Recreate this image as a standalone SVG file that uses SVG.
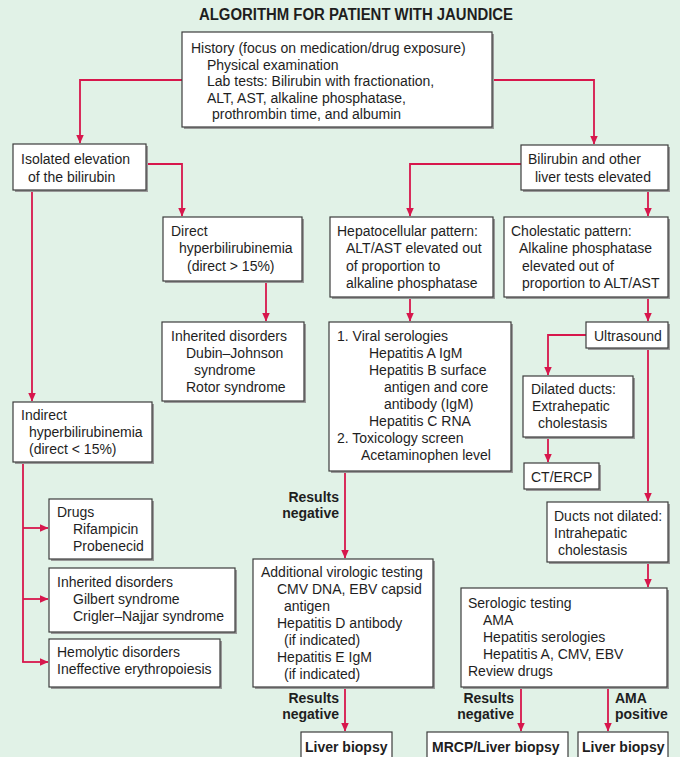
<svg xmlns="http://www.w3.org/2000/svg" width="680" height="757" viewBox="0 0 680 757">
<defs>
<style>
.bg{fill:#e1f2e7}
.box{fill:#ffffff;stroke:#3c3c3c;stroke-width:1.2}
.sh{fill:#999999}
text{font-family:"Liberation Sans",Arial,Helvetica,sans-serif;font-size:14px;fill:#1e1e1e}
.b{font-weight:bold}
.title{font-size:16px;font-weight:bold}
.ln{fill:none;stroke:#d7174c;stroke-width:1.8}
.r{text-anchor:end}
</style>
<marker id="ah" markerWidth="9" markerHeight="8" refX="8.5" refY="4" orient="auto" markerUnits="userSpaceOnUse">
<path d="M0,0 L9,4 L0,8 z" fill="#d7174c"/>
</marker>
</defs>
<rect class="bg" x="0" y="0" width="680" height="757"/>
<text class="title" x="199" y="19.5" textLength="314" lengthAdjust="spacingAndGlyphs">ALGORITHM FOR PATIENT WITH JAUNDICE</text>

<g id="connectors">
<path class="ln" d="M182,80 H80 V143" marker-end="url(#ah)"/>
<path class="ln" d="M492,80 H594 V144" marker-end="url(#ah)"/>
<path class="ln" d="M146,164 H182 V216" marker-end="url(#ah)"/>
<path class="ln" d="M32,190 V401" marker-end="url(#ah)"/>
<path class="ln" d="M266,281 V321" marker-end="url(#ah)"/>
<path class="ln" d="M521,164 H410 V216" marker-end="url(#ah)"/>
<path class="ln" d="M648,190 V216" marker-end="url(#ah)"/>
<path class="ln" d="M410,297 V321" marker-end="url(#ah)"/>
<path class="ln" d="M648,297 V321" marker-end="url(#ah)"/>
<path class="ln" d="M586,335 H548 V375" marker-end="url(#ah)"/>
<path class="ln" d="M548,437 V462" marker-end="url(#ah)"/>
<path class="ln" d="M648,348 V501" marker-end="url(#ah)"/>
<path class="ln" d="M648,562 V587" marker-end="url(#ah)"/>
<path class="ln" d="M345,471 V558" marker-end="url(#ah)"/>
<path class="ln" d="M23,462 V662"/>
<path class="ln" d="M23,528 H48" marker-end="url(#ah)"/>
<path class="ln" d="M23,599 H48" marker-end="url(#ah)"/>
<path class="ln" d="M22.1,662 H48" marker-end="url(#ah)"/>
<path class="ln" d="M345,687 V731" marker-end="url(#ah)"/>
<path class="ln" d="M521,687 V731" marker-end="url(#ah)"/>
<path class="ln" d="M608,687 V731" marker-end="url(#ah)"/>
<text class="b r" x="339" y="502">Results</text>
<text class="b r" x="339" y="518">negative</text>
<text class="b r" x="339" y="703">Results</text>
<text class="b r" x="339" y="719">negative</text>
<text class="b r" x="514" y="703">Results</text>
<text class="b r" x="514" y="719">negative</text>
<text class="b" x="615" y="703">AMA</text>
<text class="b" x="615" y="719">positive</text>
</g>

<g id="history">
<rect class="sh" x="184" y="34" width="310" height="95"/>
<rect class="box" x="182" y="32" width="310" height="95"/>
<text x="191" y="53">History (focus on medication/drug exposure)</text>
<text x="207" y="69.5">Physical examination</text>
<text x="207" y="86">Lab tests: Bilirubin with fractionation,</text>
<text x="207" y="102.5">ALT, AST, alkaline phosphatase,</text>
<text x="212" y="119">prothrombin time, and albumin</text>
</g>

<g id="isolated">
<rect class="sh" x="15" y="146" width="133" height="46"/>
<rect class="box" x="13" y="144" width="133" height="46"/>
<text x="21" y="164">Isolated elevation</text>
<text x="28" y="182">of the bilirubin</text>
</g>

<g id="bilirubin-other">
<rect class="sh" x="523" y="147" width="147" height="45"/>
<rect class="box" x="521" y="145" width="147" height="45"/>
<text x="528" y="164">Bilirubin and other</text>
<text x="535" y="182">liver tests elevated</text>
</g>

<g id="direct">
<rect class="sh" x="165" y="219" width="139" height="64"/>
<rect class="box" x="163" y="217" width="139" height="64"/>
<text x="171" y="236">Direct</text>
<text x="179" y="253">hyperbilirubinemia</text>
<text x="187" y="271">(direct &gt; 15%)</text>
</g>

<g id="hepatocellular">
<rect class="sh" x="332" y="219" width="163" height="80"/>
<rect class="box" x="330" y="217" width="163" height="80"/>
<text x="337" y="236">Hepatocellular pattern:</text>
<text x="346" y="253">ALT/AST elevated out</text>
<text x="346" y="270.5">of proportion to</text>
<text x="346" y="287.5">alkaline phosphatase</text>
</g>

<g id="cholestatic">
<rect class="sh" x="506" y="219" width="164" height="80"/>
<rect class="box" x="504" y="217" width="164" height="80"/>
<text x="511" y="236">Cholestatic pattern:</text>
<text x="519" y="253">Alkaline phosphatase</text>
<text x="522" y="270.5">elevated out of</text>
<text x="522" y="287.5">proportion to ALT/AST</text>
</g>

<g id="inherited-direct">
<rect class="sh" x="164" y="324" width="142" height="79"/>
<rect class="box" x="162" y="322" width="142" height="79"/>
<text x="171" y="341">Inherited disorders</text>
<text x="186" y="358">Dubin–Johnson</text>
<text x="194" y="375">syndrome</text>
<text x="186" y="392">Rotor syndrome</text>
</g>

<g id="viral">
<rect class="sh" x="331" y="324" width="182" height="149"/>
<rect class="box" x="329" y="322" width="182" height="149"/>
<text x="337" y="341">1. Viral serologies</text>
<text x="369" y="358">Hepatitis A IgM</text>
<text x="369" y="375">Hepatitis B surface</text>
<text x="384" y="392">antigen and core</text>
<text x="384" y="409">antibody (IgM)</text>
<text x="369" y="426">Hepatitis C RNA</text>
<text x="337" y="443">2. Toxicology screen</text>
<text x="361" y="460">Acetaminophen level</text>
</g>

<g id="ultrasound">
<rect class="sh" x="588" y="324" width="82" height="26"/>
<rect class="box" x="586" y="322" width="82" height="26"/>
<text x="594" y="341">Ultrasound</text>
</g>

<g id="dilated">
<rect class="sh" x="525" y="378" width="110" height="61"/>
<rect class="box" x="523" y="376" width="110" height="61"/>
<text x="531" y="394">Dilated ducts:</text>
<text x="532" y="411">Extrahepatic</text>
<text x="538" y="428">cholestasis</text>
</g>

<g id="ct-ercp">
<rect class="sh" x="526" y="465" width="75" height="26"/>
<rect class="box" x="524" y="463" width="75" height="26"/>
<text x="531" y="482">CT/ERCP</text>
</g>

<g id="indirect">
<rect class="sh" x="15" y="404" width="139" height="60"/>
<rect class="box" x="13" y="402" width="139" height="60"/>
<text x="21" y="420">Indirect</text>
<text x="29" y="437">hyperbilirubinemia</text>
<text x="29" y="454">(direct &lt; 15%)</text>
</g>

<g id="drugs">
<rect class="sh" x="51" y="501" width="103" height="60"/>
<rect class="box" x="49" y="499" width="103" height="60"/>
<text x="57" y="517">Drugs</text>
<text x="73" y="534">Rifampicin</text>
<text x="73" y="551">Probenecid</text>
</g>

<g id="ducts-not-dilated">
<rect class="sh" x="549" y="504" width="121" height="60"/>
<rect class="box" x="547" y="502" width="121" height="60"/>
<text x="554" y="521">Ducts not dilated:</text>
<text x="554" y="538">Intrahepatic</text>
<text x="558" y="555">cholestasis</text>
</g>

<g id="additional">
<rect class="sh" x="255" y="561" width="180" height="128"/>
<rect class="box" x="253" y="559" width="180" height="128"/>
<text x="261" y="577">Additional virologic testing</text>
<text x="277" y="594">CMV DNA, EBV capsid</text>
<text x="284" y="611">antigen</text>
<text x="277" y="628">Hepatitis D antibody</text>
<text x="284" y="645">(if indicated)</text>
<text x="277" y="662">Hepatitis E IgM</text>
<text x="284" y="679">(if indicated)</text>
</g>

<g id="inherited-indirect">
<rect class="sh" x="51" y="570" width="186" height="64"/>
<rect class="box" x="49" y="568" width="186" height="64"/>
<text x="57" y="587">Inherited disorders</text>
<text x="73" y="604">Gilbert syndrome</text>
<text x="73" y="621">Crigler–Najjar syndrome</text>
</g>

<g id="serologic">
<rect class="sh" x="463" y="590" width="206" height="99"/>
<rect class="box" x="461" y="588" width="206" height="99"/>
<text x="468" y="608">Serologic testing</text>
<text x="483" y="625">AMA</text>
<text x="483" y="642">Hepatitis serologies</text>
<text x="483" y="659">Hepatitis A, CMV, EBV</text>
<text x="468" y="676">Review drugs</text>
</g>

<g id="hemolytic">
<rect class="sh" x="51" y="641" width="171" height="48"/>
<rect class="box" x="49" y="639" width="171" height="48"/>
<text x="57" y="657">Hemolytic disorders</text>
<text x="57" y="674">Ineffective erythropoiesis</text>
</g>

<g id="liver-biopsy-1">
<rect class="box" x="301" y="732" width="91" height="34"/>
<text class="b" x="305" y="752">Liver biopsy</text>
</g>

<g id="mrcp">
<rect class="box" x="427" y="732" width="141" height="34"/>
<text class="b" x="432" y="752">MRCP/Liver biopsy</text>
</g>

<g id="liver-biopsy-2">
<rect class="box" x="578" y="732" width="90" height="34"/>
<text class="b" x="582" y="752">Liver biopsy</text>
</g>
</svg>
